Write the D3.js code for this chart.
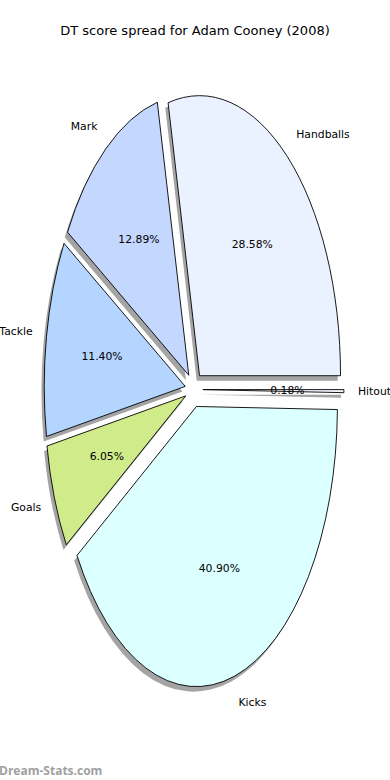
<!DOCTYPE html>
<html>
<head>
<meta charset="utf-8">
<script src="https://cdn.jsdelivr.net/npm/d3@7"></script>
<style>
  body { margin: 0; background: #fff; }
  svg { display: block; }
</style>
</head>
<body>
<div id="chart"></div>
<script>
const labels = ["Handballs", "Mark", "Tackle", "Goals", "Kicks", "Hitout"];
const values = [28.58, 12.89, 11.40, 6.05, 40.90, 0.18];
const colors = ["#eaf1ff", "#c4d7ff", "#b4d5ff", "#d0eb8a", "#dcffff", "#f4f4ff"];
const title = "DT score spread for Adam Cooney (2008)";

const width = 390, height = 780;
const cx = 194, cy = 389.5, rx = 141, ry = 280;
const explode = 0.063;

const data = labels.map((l, i) => ({label: l, value: values[i], color: colors[i]}));

const svg = d3.select("#chart").append("svg")
    .attr("width", width)
    .attr("height", height);

svg.append("rect").attr("width", width).attr("height", height).attr("fill", "white");

// matplotlib style: start at 3 o'clock, counter-clockwise
const pie = d3.pie()
    .sort(null)
    .value(d => d.value)
    .startAngle(Math.PI / 2)
    .endAngle(Math.PI / 2 - 2 * Math.PI);

const arcs = pie(data);
const arc = d3.arc().innerRadius(0).outerRadius(1);

const mid = d => (d.startAngle + d.endAngle) / 2;
const off = d => [explode * rx * Math.sin(mid(d)), -explode * ry * Math.cos(mid(d))];

// shadows first
svg.append("g").selectAll("path")
  .data(arcs)
  .join("path")
    .attr("transform", d => `translate(${cx + off(d)[0] - 0.02 * rx},${cy + off(d)[1] + 0.018 * ry}) scale(${rx},${ry})`)
    .attr("d", arc)
    .attr("fill", "#4a4a4a")
    .attr("fill-opacity", 0.5);

svg.append("g").selectAll("path")
  .data(arcs)
  .join("path")
    .attr("transform", d => `translate(${cx + off(d)[0]},${cy + off(d)[1]}) scale(${rx},${ry})`)
    .attr("d", arc)
    .attr("fill", d => d.data.color)
    .attr("stroke", "#000")
    .attr("stroke-width", 0.9)
    .attr("vector-effect", "non-scaling-stroke");

const font = "'DejaVu Sans', sans-serif";

// category labels at 1.1 radius
svg.append("g").selectAll("text")
  .data(arcs)
  .join("text")
    .attr("x", d => cx + off(d)[0] + 1.1 * rx * Math.sin(mid(d)))
    .attr("y", d => cy + off(d)[1] - 1.1 * ry * Math.cos(mid(d)))
    .attr("text-anchor", d => Math.sin(mid(d)) > 0 ? "start" : "end")
    .attr("dominant-baseline", "central")
    .style("font-family", font)
    .style("font-size", "10.8px")
    .attr("fill", "#000")
    .text(d => d.data.label);

// percentage labels at 0.6 radius
svg.append("g").selectAll("text")
  .data(arcs)
  .join("text")
    .attr("x", d => cx + off(d)[0] + 0.6 * rx * Math.sin(mid(d)))
    .attr("y", d => cy + off(d)[1] - 0.6 * ry * Math.cos(mid(d)))
    .attr("text-anchor", "middle")
    .attr("dominant-baseline", "central")
    .style("font-family", font)
    .style("font-size", "10.8px")
    .attr("fill", "#000")
    .text(d => d.data.value.toFixed(2) + "%");

svg.append("text")
    .attr("x", width / 2)
    .attr("y", 30)
    .attr("text-anchor", "middle")
    .attr("dominant-baseline", "central")
    .style("font-family", font)
    .style("font-size", "13px")
    .text(title);

svg.append("text")
    .attr("x", -1)
    .attr("y", 775)
    .style("font-family", "'Open Sans', sans-serif")
    .style("font-weight", "bold")
    .style("font-size", "12px")
    .attr("fill", "#a0a0a0")
    .text("Dream-Stats.com");
</script>
</body>
</html>
